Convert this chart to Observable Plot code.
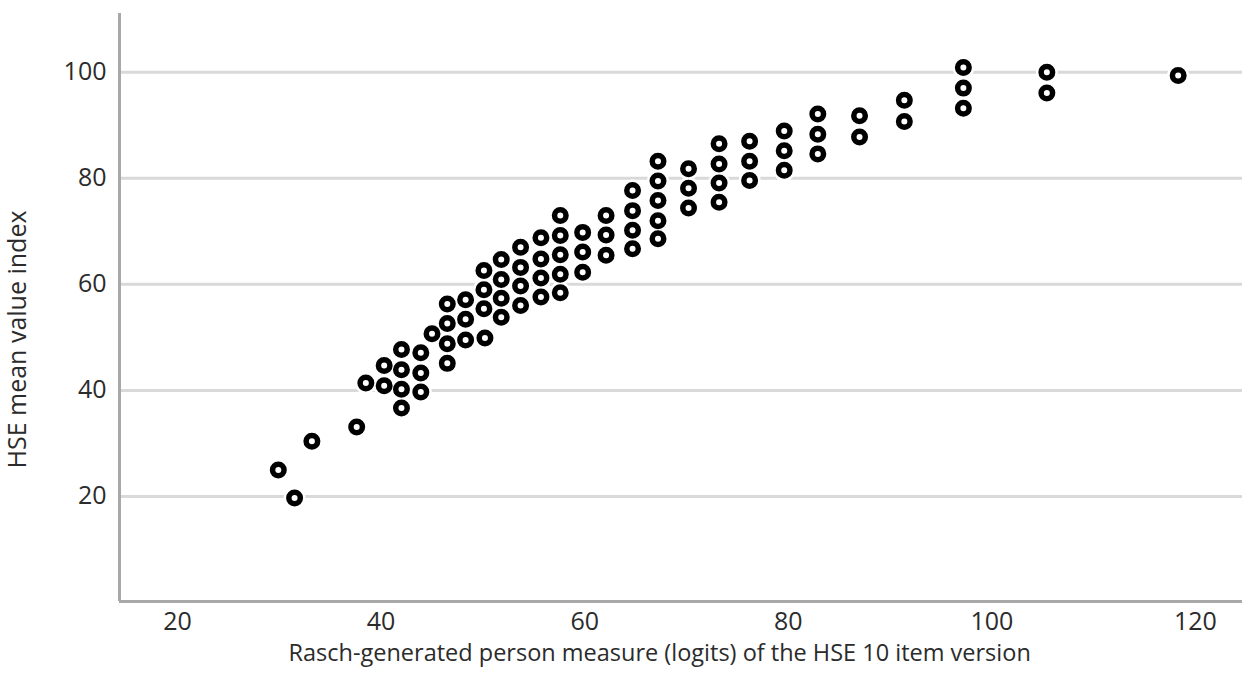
<!DOCTYPE html>
<html>
<head>
<meta charset="utf-8">
<script src="https://cdn.jsdelivr.net/npm/d3@7"></script>
<script src="https://cdn.jsdelivr.net/npm/@observablehq/plot@0.6"></script>
<style>
  html, body { margin: 0; padding: 0; background: #fff; }
  #chart svg { display: block; }
</style>
</head>
<body>
<div id="chart"></div>
<script>
// Rasch-generated person measure (x) and HSE mean value index (y), paired
const personMeasure = [
  29.9, 31.5, 33.2, 37.6, 38.5,
  40.3, 40.3,
  42.0, 42.0, 42.0, 42.0,
  43.9, 43.9, 43.9,
  45.0,
  46.5, 46.5, 46.5, 46.5,
  48.3, 48.3, 48.3,
  50.1, 50.1, 50.1, 50.2,
  51.8, 51.8, 51.8, 51.8,
  53.7, 53.7, 53.7, 53.7,
  55.7, 55.7, 55.7, 55.7,
  57.6, 57.6, 57.6, 57.6, 57.6,
  59.8, 59.8, 59.8,
  62.1, 62.1, 62.1,
  64.7, 64.7, 64.7, 64.7,
  67.2, 67.2, 67.2, 67.2, 67.2,
  70.2, 70.2, 70.2,
  73.2, 73.2, 73.2, 73.2,
  76.2, 76.2, 76.2,
  79.6, 79.6, 79.6,
  82.9, 82.9, 82.9,
  87.0, 87.0,
  91.4, 91.4,
  97.2, 97.2, 97.2,
  105.4, 105.4,
  118.3
];
const meanValueIndex = [
  25.0, 19.7, 30.4, 33.1, 41.4,
  44.7, 40.9,
  47.7, 43.9, 40.2, 36.7,
  47.1, 43.3, 39.7,
  50.7,
  56.3, 52.6, 48.8, 45.1,
  57.1, 53.4, 49.5,
  62.6, 59.0, 55.4, 49.9,
  64.7, 60.9, 57.4, 53.8,
  67.0, 63.2, 59.7, 56.0,
  68.8, 64.8, 61.2, 57.6,
  73.0, 69.2, 65.6, 61.9, 58.4,
  69.8, 66.1, 62.3,
  73.0, 69.3, 65.5,
  77.7, 73.9, 70.2, 66.7,
  83.2, 79.5, 75.8, 72.0, 68.6,
  81.8, 78.1, 74.4,
  86.5, 82.7, 79.1, 75.5,
  87.0, 83.2, 79.6,
  88.9, 85.2, 81.5,
  92.1, 88.3, 84.6,
  91.8, 87.8,
  94.7, 90.7,
  100.9, 97.0, 93.2,
  100.0, 96.1,
  99.4
];
const xTicks = [20, 40, 60, 80, 100, 120];
const yTicks = [20, 40, 60, 80, 100];
const xTitle = "Rasch-generated person measure (logits) of the HSE 10 item version";
const yTitle = "HSE mean value index";

const points = personMeasure.map((x, i) => ({x, y: meanValueIndex[i]}));

const xDomain = [14.3, 124.62];
const yDomain = [0.2, 111.07];
const font = "'Open Sans', 'Noto Sans', sans-serif";

const chart = Plot.plot({
  width: 1242,
  height: 676,
  marginLeft: 119,
  marginRight: 0,
  marginTop: 13,
  marginBottom: 75,
  style: {background: "#fff", color: "#2b2b2b", fontFamily: font},
  x: {domain: xDomain},
  y: {domain: yDomain},
  marks: [
    Plot.gridY(yTicks, {stroke: "#d9d9d9", strokeOpacity: 1, strokeWidth: 3}),
    Plot.ruleX([xDomain[0]], {stroke: "#a8a8a8", strokeWidth: 3}),
    Plot.ruleY([yDomain[0]], {stroke: "#a8a8a8", strokeWidth: 3}),
    Plot.axisX(xTicks, {tickSize: 0, tickPadding: 11, fontSize: 25, fontFamily: font, label: null}),
    Plot.axisY(yTicks, {tickSize: 0, tickPadding: 13, fontSize: 25, fontFamily: font, label: null}),
    Plot.text([xTitle], {frameAnchor: "bottom-left", textAnchor: "start", dx: 169, dy: 59, fontSize: 23.5, fontFamily: font, fill: "#2b2b2b"}),
    Plot.text([yTitle], {frameAnchor: "bottom-left", textAnchor: "start", rotate: -90, dx: -94, dy: -133, fontSize: 25, fontFamily: font, fill: "#2b2b2b"}),
    // white halo that interrupts gridlines
    Plot.dot(points, {x: "x", y: "y", r: 5.75, stroke: "#fff", strokeWidth: 10.5, fill: "#fff"}),
    // ring markers
    Plot.dot(points, {x: "x", y: "y", r: 5.75, stroke: "#000", strokeWidth: 5.5, fill: "#fff"})
  ]
});
document.getElementById("chart").appendChild(chart);
</script>
</body>
</html>
